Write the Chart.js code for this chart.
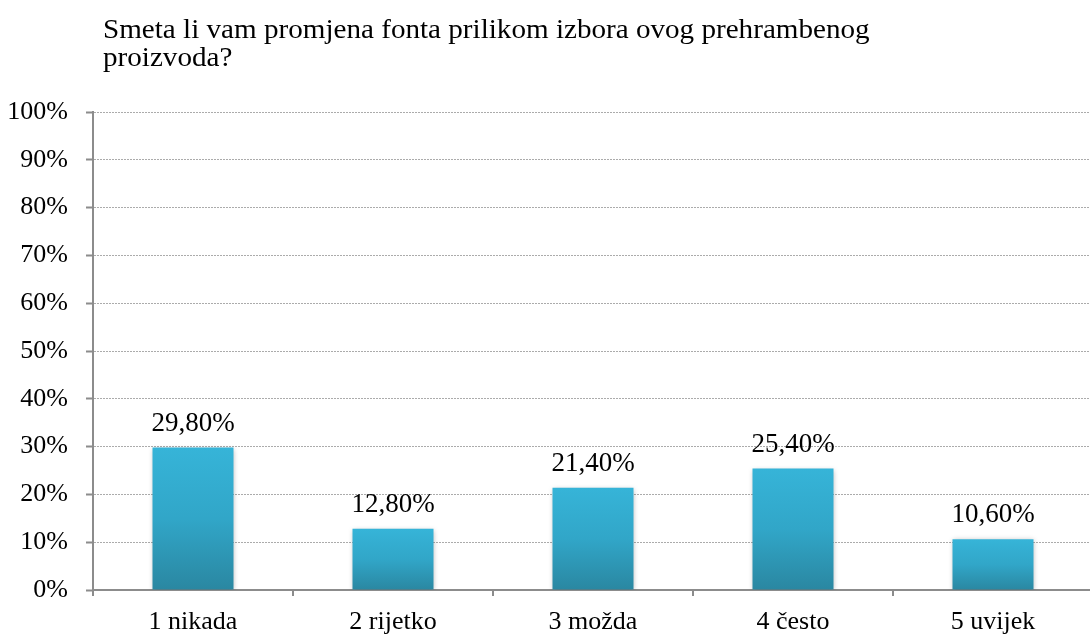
<!DOCTYPE html>
<html>
<head>
<meta charset="utf-8">
<script src="https://cdn.jsdelivr.net/npm/chart.js@4"></script>
<style>
  html, body { margin: 0; padding: 0; background: #fff; overflow: hidden; }
  #wrap { position: relative; width: 1100px; height: 636px; }
  #title {
    position: absolute; left: 103px; top: 15px;
    font-family: "Liberation Serif", "Times New Roman", serif;
    font-size: 28px; line-height: 28px; color: #000;
    transform-origin: 0 0; transform: scaleX(1.04);
    white-space: nowrap;
  }
</style>
</head>
<body>
<div id="wrap">
  <div id="title">Smeta li vam promjena fonta prilikom izbora ovog prehrambenog<br>proizvoda?</div>
  <canvas id="chart" width="1100" height="636"></canvas>
</div>
<script>
const categories = ['1 nikada', '2 rijetko', '3 možda', '4 često', '5 uvijek'];
const shares = [29.8, 12.8, 21.4, 25.4, 10.6];
const yTicks = [0, 10, 20, 30, 40, 50, 60, 70, 80, 90, 100];

const serif = '"Liberation Serif", "Times New Roman", serif';

// gradient per stupac, svjetlije gore
function barFill(c) {
  const chart = c.chart;
  const y = chart.scales.y;
  if (!y || c.raw == null) return '#33b0d4';
  const top = y.getPixelForValue(c.raw);
  const bottom = y.getPixelForValue(0);
  if (!isFinite(top) || !isFinite(bottom) || top === bottom) return '#33b0d4';
  const g = chart.ctx.createLinearGradient(0, top, 0, bottom);
  g.addColorStop(0, '#36b4d8');
  g.addColorStop(0.5, '#31a6c8');
  g.addColorStop(1, '#2a87a1');
  return g;
}

const shadow = {
  id: 'shadow',
  beforeDatasetsDraw(chart) {
    const ctx = chart.ctx;
    ctx.save();
    ctx.shadowColor = 'rgba(0,0,0,0.28)';
    ctx.shadowBlur = 5;
    ctx.shadowOffsetX = 0;
    ctx.shadowOffsetY = 1;
  },
  afterDatasetsDraw(chart) {
    chart.ctx.restore();
  }
};

const valueLabels = {
  id: 'valueLabels',
  afterDatasetsDraw(chart) {
    const ctx = chart.ctx;
    const meta = chart.getDatasetMeta(0);
    ctx.save();
    ctx.font = '27px ' + serif;
    ctx.fillStyle = '#000';
    ctx.textAlign = 'center';
    ctx.textBaseline = 'alphabetic';
    meta.data.forEach((bar, i) => {
      const txt = shares[i].toFixed(2).replace('.', ',') + '%';
      ctx.fillText(txt, bar.x, bar.y - 17);
    });
    ctx.restore();
  }
};

new Chart(document.getElementById('chart'), {
  type: 'bar',
  data: {
    labels: categories,
    datasets: [{
      data: shares,
      backgroundColor: barFill,
      borderWidth: 0,
      barPercentage: 0.405,
      categoryPercentage: 1
    }]
  },
  plugins: [shadow, valueLabels],
  options: {
    responsive: false,
    animation: false,
    devicePixelRatio: 1,
    layout: { padding: { top: 112, right: 7, left: 0, bottom: 0 } },
    plugins: {
      legend: { display: false },
      tooltip: { enabled: false }
    },
    scales: {
      x: {
        afterFit(s) { s.height = 46; },
        grid: {
          offset: true,
          drawOnChartArea: false,
          color: '#8c8c8c',
          lineWidth: 2,
          tickLength: 6
        },
        border: { color: '#8c8c8c', width: 2 },
        ticks: {
          color: '#000',
          padding: 11,
          font: { family: serif, size: 26 }
        }
      },
      y: {
        min: 0,
        max: 100,
        afterFit(s) { s.width = 93; },
        afterBuildTicks(s) { s.ticks = yTicks.map(v => ({ value: v })); },
        grid: {
          color: '#ababab',
          lineWidth: 1,
          tickColor: '#8c8c8c',
          tickWidth: 2,
          tickBorderDash: [1, 0],
          tickLength: 7
        },
        border: { color: '#8c8c8c', width: 2, dash: [2, 1] },
        ticks: {
          color: '#000',
          padding: 18,
          font: { family: serif, size: 26 },
          callback: v => v + '%'
        }
      }
    }
  }
});
</script>
</body>
</html>
